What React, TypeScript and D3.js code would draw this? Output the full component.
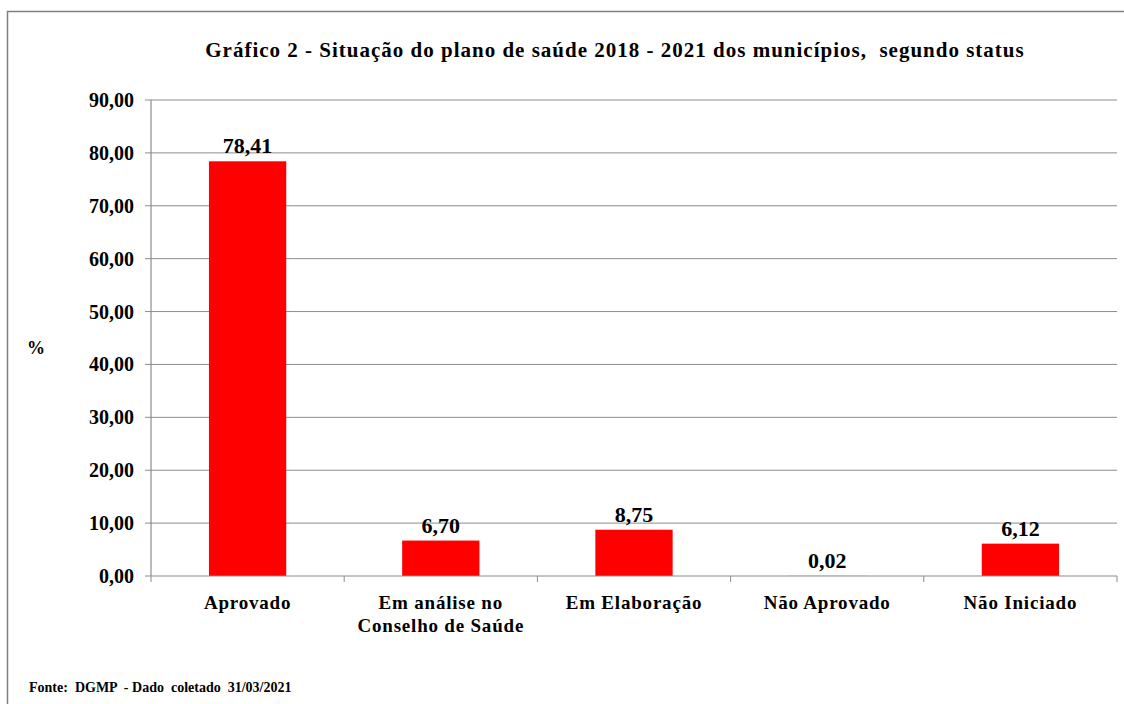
import React from "react";
import * as d3 from "d3";

const categories: string[][] = [
  ["Aprovado"],
  ["Em análise no", "Conselho de Saúde"],
  ["Em Elaboração"],
  ["Não Aprovado"],
  ["Não Iniciado"],
];
const values: number[] = [78.41, 6.7, 8.75, 0.02, 6.12];
const yTicks: number[] = [0, 10, 20, 30, 40, 50, 60, 70, 80, 90];
const title = "Gráfico 2 - Situação do plano de saúde 2018 - 2021 dos municípios,  segundo status";
const footnote = "Fonte:  DGMP  - Dado  coletado  31/03/2021";
const yLabel = "%";

const W = 1124;
const H = 704;
const left = 151;
const right = 1117;
const top = 100;
const bottom = 576;
const font = "Liberation Serif, Times New Roman, serif";
const fmt = (v: number) => v.toFixed(2).replace(".", ",");

export default function App() {
  const keys = categories.map((c) => c.join(" "));
  const x = d3.scaleBand<string>().domain(keys).range([left, right]).paddingInner(0.6).paddingOuter(0.3);
  const y = d3.scaleLinear().domain([0, 90]).range([bottom, top]);
  const step = (right - left) / categories.length;
  const boundaries = d3.range(categories.length + 1).map((i) => left + i * step);

  return (
    <svg width={W} height={H} style={{ position: "absolute", left: 0, top: 0, background: "#fff", fontFamily: font }}>
      <rect x={7.5} y={11.5} width={W + 10} height={H + 10} fill="#fff" stroke="#808080" strokeWidth={1.5} />
      <text x={615} y={57} textAnchor="middle" fontSize={21} fontWeight="bold" letterSpacing={1} style={{ whiteSpace: "pre" }}>
        {title}
      </text>
      {yTicks.map((t) => (
        <g key={t}>
          {t > 0 && <line x1={left} x2={right} y1={y(t)} y2={y(t)} stroke="#8c8c8c" strokeWidth={1} />}
          <line x1={left - 6} x2={left} y1={y(t)} y2={y(t)} stroke="#8c8c8c" strokeWidth={1} />
          <text x={134} y={y(t)} dy="0.35em" textAnchor="end" fontSize={20} fontWeight="bold">
            {fmt(t)}
          </text>
        </g>
      ))}
      <line x1={left} x2={left} y1={top} y2={bottom} stroke="#8c8c8c" strokeWidth={1.2} />
      <text x={36} y={354} textAnchor="middle" fontSize={18} fontWeight="bold">
        {yLabel}
      </text>
      {values.map((v, i) => {
        const bx = x(keys[i]) as number;
        return (
          <g key={keys[i]}>
            <rect x={bx} y={y(v)} width={x.bandwidth()} height={bottom - y(v)} fill="#ff0000" />
            <text x={bx + x.bandwidth() / 2} y={y(v) - 8} textAnchor="middle" fontSize={22} fontWeight="bold">
              {fmt(v)}
            </text>
          </g>
        );
      })}
      <line x1={left} x2={right} y1={bottom} y2={bottom} stroke="#8c8c8c" strokeWidth={1.2} />
      {boundaries.map((b, i) => (
        <line key={i} x1={b} x2={b} y1={bottom} y2={bottom + 6} stroke="#8c8c8c" strokeWidth={1} />
      ))}
      {categories.map((lines, i) => (
        <text key={i} x={left + step * (i + 0.5)} y={609} textAnchor="middle" fontSize={19} fontWeight="bold" letterSpacing={0.8}>
          {lines.map((l, j) => (
            <tspan key={j} x={left + step * (i + 0.5)} dy={j === 0 ? 0 : 23}>
              {l}
            </tspan>
          ))}
        </text>
      ))}
      <text x={29} y={692} fontSize={14} fontWeight="bold" style={{ whiteSpace: "pre" }}>
        {footnote}
      </text>
    </svg>
  );
}
